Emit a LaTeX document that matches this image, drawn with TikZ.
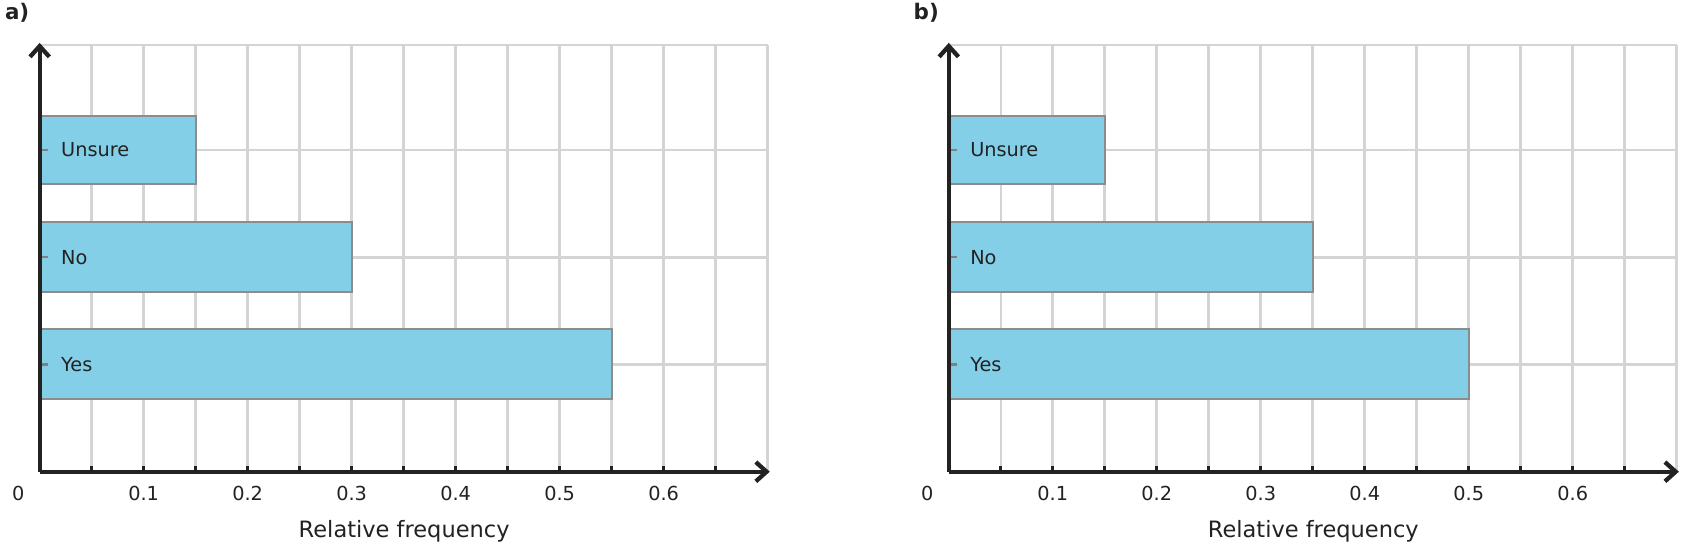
\documentclass[tikz,border=0pt]{standalone}
\usepackage{fontspec}
\setmainfont{DejaVu Sans}
\definecolor{barblue}{HTML}{84CFE8}
\definecolor{gridgrey}{HTML}{D4D4D4}
\definecolor{axisblack}{HTML}{222222}
\tikzset{
  grid line/.style={gridgrey,line width=1.2},
  bar/.style={fill=barblue,draw=gray!90,line width=1},
  axis line/.style={axisblack,line width=2,-{Straight Barb[length=5,width=9]}},
  num/.style={font=\fontsize{9}{10}\selectfont,text=axisblack},
  cat/.style={font=\fontsize{9}{10}\selectfont,text=axisblack,right},
}
\usetikzlibrary{arrows.meta}
\begin{document}
\begin{tikzpicture}[x=0.5pt,y=-0.5pt]
\useasboundingbox (0,0) rectangle (1568,511);
\foreach \off/\lab/\no/\yes in {0/a/0.3/0.55,848/b/0.35/0.5}{
 \begin{scope}[xshift=\off*0.5pt]
 % grid
 \foreach \i in {1,...,14} \draw[grid line] (37+48.5*\i,42)--(37+48.5*\i,440);
 \foreach \y in {42,140,240,340} \draw[grid line] (37,\y)--(716,\y);
 % bars
 \draw[bar] (37,108) rectangle (37+970*0.15,172);
 \draw[bar] (37,207) rectangle (37+970*\no,272);
 \draw[bar] (37,307) rectangle (37+970*\yes,372);
 \foreach \y/\c in {140/Unsure,240/No,340/Yes}{
   \draw[gray,line width=1] (37,\y)--(45,\y);
   \node[cat] at (50,\y) {\c};}
 % axes
 \draw[axis line] (37,440)--(37,40);
 \draw[axis line] (37,440)--(718,440);
 \foreach \i in {1,...,13} \draw[axisblack,line width=1.5] (37+48.5*\i,440)--(37+48.5*\i,435);
 \node[num] at (17,460) {0};
 \foreach \v [count=\k] in {0.1,0.2,0.3,0.4,0.5,0.6}
   \node[num] at (37+97*\k,460) {\v};
 \node[num,font=\fontsize{10.5}{12}\selectfont] at (377,496) {Relative frequency};
 \node[num,font=\fontsize{10}{12}\selectfont\bfseries] at (16,12) {\lab)};
 \end{scope}}
\end{tikzpicture}
\end{document}
